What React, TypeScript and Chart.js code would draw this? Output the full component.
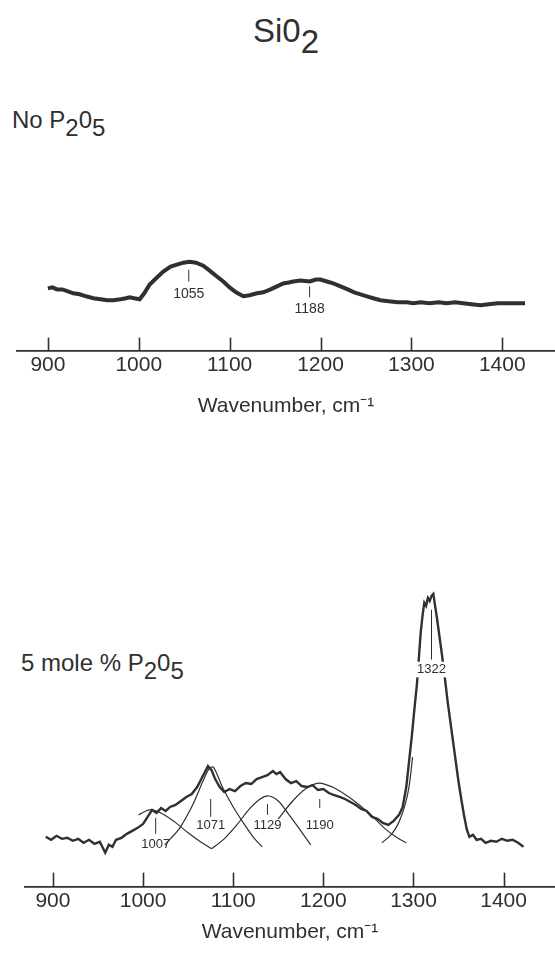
import React, { useEffect, useRef } from "react";
import { Chart, registerables } from "chart.js";

Chart.register(...registerables);

const INK = "#303030";
const FONT = "'Liberation Sans', Arial, Helvetica, sans-serif";

// Axis ticks (both panels)
const tickValues = [900, 1000, 1100, 1200, 1300, 1400];
const tickLabels = ["900", "1000", "1100", "1200", "1300", "1400"];
const axisTitle = "Wavenumber, cm⁻¹";

// Top panel: No P2O5 spectrum (wavenumber, relative intensity)
const topWave = [
  900, 905, 910, 916, 922, 928, 935, 942, 950, 958, 965, 972, 980, 986, 990, 995,
  1001, 1006, 1012, 1020, 1027, 1035, 1042, 1049, 1056, 1063, 1071, 1078, 1086,
  1093, 1100, 1107, 1115, 1122, 1130, 1137, 1145, 1152, 1159, 1165, 1170, 1178,
  1188, 1195, 1200, 1207, 1214, 1222, 1230, 1237, 1244, 1251, 1258, 1266, 1275,
  1285, 1295, 1302, 1310, 1320, 1330, 1339, 1348, 1357, 1366, 1376, 1385, 1395,
  1405, 1415, 1425,
];
const topIntensity = [
  63, 64, 62, 62, 60, 58, 57, 55, 53, 52, 51, 51, 52, 53, 54, 53,
  52, 58, 67, 74, 80, 85, 87, 89, 90, 89, 86, 81, 75,
  70, 64, 59, 55, 56, 58, 59, 62, 65, 68, 69, 70, 71,
  70, 72, 72, 70, 68, 65, 62, 59, 57, 55, 53, 51, 50,
  49, 49, 48, 49, 48, 49, 48, 49, 48, 47, 46, 47, 48,
  48, 48, 48,
];

// Bottom panel: 5 mole % P2O5 spectrum
const bottomWave = [
  892, 898, 904, 910, 916, 922, 928, 934, 940, 946, 952, 958, 962, 966, 970, 976,
  982, 988, 994, 1000, 1005, 1010, 1015, 1020, 1025, 1030, 1036, 1042, 1048, 1054,
  1060, 1064, 1068, 1072, 1076, 1080, 1085, 1090, 1096, 1102, 1108, 1114, 1120,
  1126, 1132, 1138, 1144, 1148, 1152, 1158, 1164, 1170, 1176, 1182, 1188, 1194,
  1200, 1206, 1212, 1218, 1224, 1230, 1236, 1242, 1248, 1254, 1260, 1266, 1272,
  1278, 1284, 1288, 1292, 1295, 1298, 1301, 1304, 1306, 1308, 1310, 1312, 1314,
  1316, 1318, 1320, 1322, 1324, 1326, 1329, 1332, 1335, 1338, 1341, 1344, 1347,
  1350, 1353, 1356, 1359, 1362, 1366, 1370, 1375, 1380, 1386, 1392, 1398, 1404,
  1410, 1416, 1422,
];
const bottomIntensity = [
  50, 47, 51, 48, 49, 46, 48, 44, 47, 43, 45, 34, 42, 40, 47, 49,
  53, 56, 59, 63, 70, 77, 74, 79, 76, 80, 82, 86, 90, 93,
  100, 107, 114, 121, 117, 108, 100, 95, 98, 96, 101, 104, 103,
  108, 110, 112, 116, 113, 115, 108, 104, 106, 101, 100, 102, 97,
  98, 94, 92, 90, 88, 85, 82, 78, 76, 70, 68, 64, 62,
  66, 72, 80, 100, 125, 150, 178, 205, 230, 255, 272, 285, 282,
  290, 287, 292, 294, 282, 270, 250, 230, 208, 185, 165, 145, 125,
  105, 88, 72, 58, 50, 52, 47, 48, 44, 46, 45, 48, 46,
  47, 44, 40,
];

// Fitted component bands (bottom panel)
const band1007Wave = [995, 1007, 1020, 1035, 1050, 1062, 1076];
const band1007Int = [72, 77, 74, 65, 54, 46, 38];
const band1071Wave = [1024, 1040, 1055, 1066, 1073, 1078, 1088, 1100, 1112, 1122, 1132];
const band1071Int = [42, 58, 82, 105, 118, 120, 100, 80, 63, 50, 40];
const band1129Wave = [1076, 1090, 1105, 1118, 1130, 1139, 1150, 1162, 1175, 1186];
const band1129Int = [38, 48, 63, 78, 88, 91, 86, 72, 56, 42];
const band1190Wave = [1150, 1165, 1180, 1195, 1210, 1225, 1240, 1255, 1270, 1282, 1292];
const band1190Int = [68, 85, 98, 104, 100, 92, 82, 70, 57, 49, 44];
const band1322Wave = [1265, 1275, 1283, 1290, 1295, 1299];
const band1322Int = [44, 52, 63, 80, 100, 130];

// Peak annotations
const topPeakText = ["1055", "1188"];
const topPeakWave = [1055, 1188];
const topPeakMarkHigh = [82, 65];
const topPeakMarkLow = [70, 54];
const topPeakTextLevel = [57, 42];

const bottomPeakText = ["1007", "1071", "1129", "1190", "1322"];
const bottomPeakWave = [1014, 1075, 1138, 1196, 1320];
const bottomPeakMarkHigh = [69, 88, 83, 88, 278];
const bottomPeakMarkLow = [53, 70, 72, 79, 228];
const bottomPeakTextLevel = [42, 61, 61, 61, 218];

const pts = (xs: number[], ys: number[]) => xs.map((x, i) => ({ x, y: ys[i] }));

const annotPlugin = {
  id: "annot",
  afterDatasetsDraw(chart: any, _args: any, opts: any) {
    const { ctx, scales } = chart;
    const x = scales.x;
    const y = scales.y;
    const base = chart.chartArea.bottom;
    ctx.save();
    ctx.strokeStyle = INK;
    ctx.lineWidth = 1.6;
    for (const v of tickValues) {
      const px = Math.round(x.getPixelForValue(v)) + 0.5;
      ctx.beginPath();
      ctx.moveTo(px, base);
      ctx.lineTo(px, base - opts.tickLen);
      ctx.stroke();
    }
    ctx.font = `${opts.labelSize}px ${FONT}`;
    ctx.textAlign = "center";
    ctx.textBaseline = "middle";
    opts.text.forEach((t: string, i: number) => {
      const px = x.getPixelForValue(opts.wave[i]);
      const ty = y.getPixelForValue(opts.textLevel[i]);
      if (opts.boxed && opts.boxed[i]) {
        const w = ctx.measureText(t).width + 4;
        ctx.fillStyle = "#ffffff";
        ctx.fillRect(px - w / 2, ty - opts.labelSize * 0.6, w, opts.labelSize * 1.2);
      }
      ctx.lineWidth = 1;
      ctx.beginPath();
      ctx.moveTo(px, y.getPixelForValue(opts.high[i]));
      ctx.lineTo(px, y.getPixelForValue(opts.low[i]));
      ctx.stroke();
      ctx.fillStyle = INK;
      ctx.fillText(t, px, ty);
    });
    ctx.restore();
  },
};

function makeOptions(min: number, max: number, ymax: number, padLeft: number, titlePad: number, annot: any) {
  return {
    animation: false as const,
    responsive: false,
    maintainAspectRatio: false,
    layout: { padding: { left: padLeft, right: 0, top: 10, bottom: 0 } },
    plugins: {
      legend: { display: false },
      tooltip: { enabled: false },
      annot,
    },
    scales: {
      x: {
        type: "linear" as const,
        min,
        max,
        afterBuildTicks: (s: any) => {
          s.ticks = tickValues.map((v) => ({ value: v }));
        },
        ticks: {
          callback: (v: any) => {
            const i = tickValues.indexOf(Number(v));
            return i >= 0 ? tickLabels[i] : "";
          },
          font: { family: FONT, size: 21 },
          color: INK,
          padding: 2,
          maxRotation: 0,
          autoSkip: false,
        },
        grid: { display: false, drawTicks: false },
        border: { display: true, color: INK, width: 1.8 },
        title: {
          display: true,
          text: axisTitle,
          font: { family: FONT, size: 21 },
          color: INK,
          padding: { top: titlePad, bottom: 0 },
        },
      },
      y: { display: false, min: 0, max: ymax },
    },
  };
}

function TopChart() {
  const ref = useRef<HTMLCanvasElement>(null);
  useEffect(() => {
    const chart = new Chart(ref.current!, {
      type: "line",
      data: {
        datasets: [
          {
            data: pts(topWave, topIntensity),
            borderColor: INK,
            borderWidth: 4,
            pointRadius: 0,
            tension: 0,
          },
        ],
      },
      options: makeOptions(866, 1458, 112, 17, 14, {
        tickLen: 13,
        labelSize: 14,
        text: topPeakText,
        wave: topPeakWave,
        high: topPeakMarkHigh,
        low: topPeakMarkLow,
        textLevel: topPeakTextLevel,
      }) as any,
      plugins: [annotPlugin],
    });
    return () => chart.destroy();
  }, []);
  return (
    <canvas
      ref={ref}
      width={555}
      height={189}
      style={{ position: "absolute", left: 0, top: 230, width: 555, height: 189 }}
    />
  );
}

function BottomChart() {
  const ref = useRef<HTMLCanvasElement>(null);
  useEffect(() => {
    const thin = (xs: number[], ys: number[]) => ({
      data: pts(xs, ys),
      borderColor: INK,
      borderWidth: 1.2,
      pointRadius: 0,
      tension: 0.3,
    });
    const chart = new Chart(ref.current!, {
      type: "line",
      data: {
        datasets: [
          thin(band1007Wave, band1007Int),
          thin(band1071Wave, band1071Int),
          thin(band1129Wave, band1129Int),
          thin(band1190Wave, band1190Int),
          thin(band1322Wave, band1322Int),
          {
            data: pts(bottomWave, bottomIntensity),
            borderColor: INK,
            borderWidth: 2.4,
            pointRadius: 0,
            tension: 0,
          },
        ],
      },
      options: makeOptions(869, 1457, 318, 25, 4, {
        tickLen: 14,
        labelSize: 13,
        text: bottomPeakText,
        wave: bottomPeakWave,
        high: bottomPeakMarkHigh,
        low: bottomPeakMarkLow,
        textLevel: bottomPeakTextLevel,
        boxed: [false, false, false, false, true],
      }) as any,
      plugins: [annotPlugin],
    });
    return () => chart.destroy();
  }, []);
  return (
    <canvas
      ref={ref}
      width={555}
      height={385}
      style={{ position: "absolute", left: 0, top: 560, width: 555, height: 385 }}
    />
  );
}

const sub: React.CSSProperties = { position: "relative", top: "0.34em" };

export default function App() {
  return (
    <div
      style={{
        position: "absolute",
        left: 0,
        top: 0,
        width: 555,
        height: 953,
        background: "#ffffff",
        overflow: "hidden",
        fontFamily: FONT,
        color: INK,
      }}
    >
      <div style={{ position: "absolute", left: 253, top: 14, fontSize: 33, lineHeight: 1, whiteSpace: "nowrap" }}>
        Si0<span style={sub}>2</span>
      </div>
      <div style={{ position: "absolute", left: 12, top: 108, fontSize: 24, lineHeight: 1, whiteSpace: "nowrap" }}>
        No P<span style={sub}>2</span>0<span style={sub}>5</span>
      </div>
      <div style={{ position: "absolute", left: 21, top: 651, fontSize: 24, lineHeight: 1, whiteSpace: "nowrap" }}>
        5 mole % P<span style={sub}>2</span>0<span style={sub}>5</span>
      </div>
      <TopChart />
      <BottomChart />
    </div>
  );
}
